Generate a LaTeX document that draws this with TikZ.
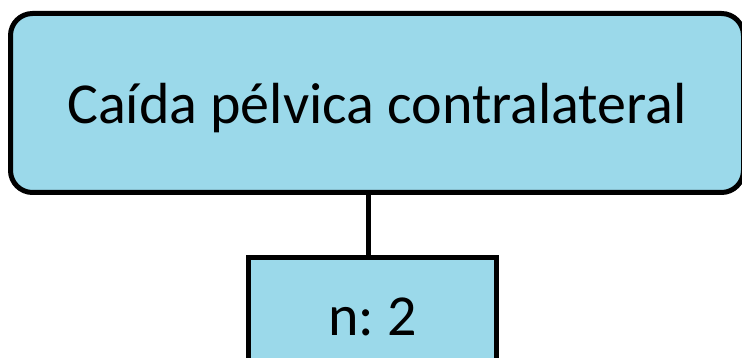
\documentclass[tikz,border=0pt]{standalone}
\usepackage{fontspec}
\setmainfont{Carlito}
\usepackage{tikz}
\usetikzlibrary{positioning}
\definecolor{celeste}{RGB}{155,217,234}
\frenchspacing

\begin{document}
\begin{tikzpicture}[x=1pt,y=-1pt]
		\tikzset{
			caja/.style={draw=black,fill=celeste,line width=5pt,
				font=\fontsize{58}{64}\selectfont,inner sep=0pt},
			rasgo/.style={caja,rounded corners=22pt,minimum width=733pt,minimum height=179pt,text depth=0pt},
			conteo/.style={caja,minimum width=248pt,minimum height=118pt}
		}
		\useasboundingbox (0,0) rectangle (742,358);
		\node(rasgo)[rasgo] at (377,103) {Caída pélvica contralateral};
		\node(n)[conteo] at (372.5,316.5) {n: 2};
		\draw[line width=5pt] ([xshift=-4pt]n.north) -- ([xshift=-4pt]n.north |- rasgo.south);
\end{tikzpicture}
\end{document}
